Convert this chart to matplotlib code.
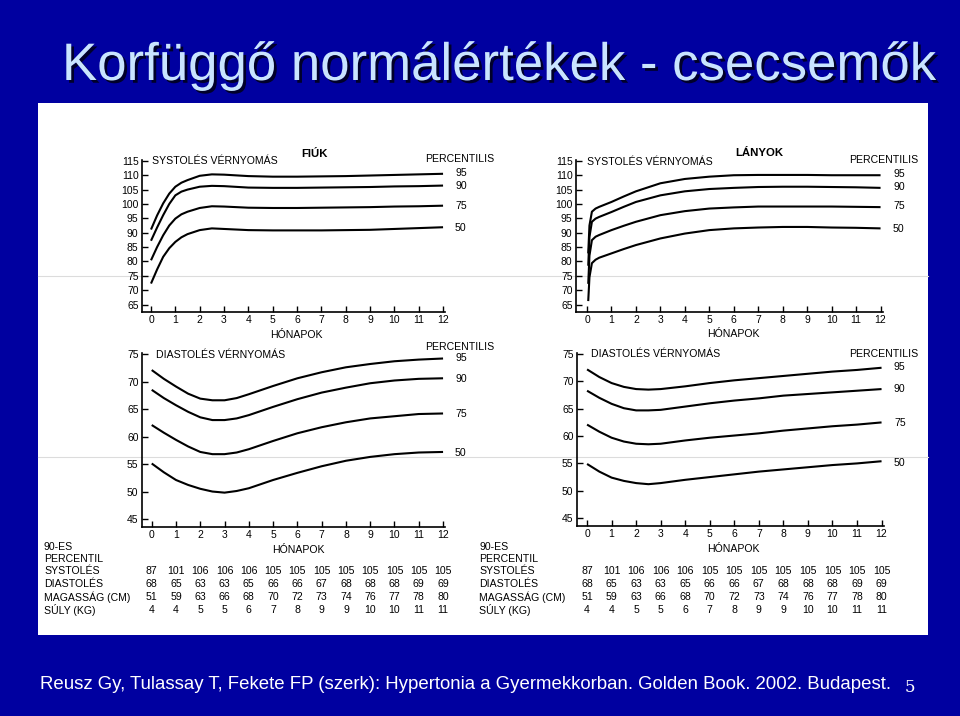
import matplotlib.pyplot as plt
import matplotlib.patheffects as pe
import matplotlib.transforms as mtransforms
from matplotlib.patches import Rectangle

plt.rcParams['font.family'] = ['Liberation Sans', 'DejaVu Sans']

# --- data ---
title = 'Korfüggő normálértékek - csecsemők'
footer = ('Reusz Gy, Tulassay T, Fekete FP (szerk): Hypertonia a Gyermekkorban. '
          'Golden Book. 2002. Budapest.')
percentiles = ['95', '90', '75', '50']

sys_boys_months = [0, 0.25, 0.5, 0.75, 1, 1.25, 1.5, 2, 2.5, 3, 4, 5, 6, 7, 8, 9, 10, 11, 12]
sys_boys = {
    '95': [91.1, 96.0, 100.2, 103.6, 106.0, 107.4, 108.3, 109.8, 110.3, 110.2, 109.7, 109.5,
           109.5, 109.6, 109.7, 109.9, 110.1, 110.3, 110.5],
    '90': [87.2, 91.8, 96.1, 100.0, 103.0, 104.3, 105.0, 106.0, 106.3, 106.2, 105.7, 105.6,
           105.6, 105.7, 105.8, 105.9, 106.1, 106.2, 106.4],
    '75': [80.4, 85.0, 89.1, 92.5, 94.9, 96.4, 97.3, 98.6, 99.2, 99.1, 98.7, 98.6,
           98.6, 98.7, 98.8, 98.9, 99.1, 99.2, 99.4],
    '50': [72.3, 77.2, 81.6, 84.6, 86.8, 88.4, 89.5, 90.9, 91.5, 91.3, 90.9, 90.8,
           90.8, 90.8, 90.9, 91.0, 91.3, 91.6, 91.9],
}

sys_girls_months = [0.05, 0.1, 0.2, 0.35, 0.5, 1, 1.5, 2, 3, 4, 5, 6, 7, 8, 9, 10, 11, 12]
sys_girls = {
    '95': [82.8, 92.5, 97.3, 98.4, 99.0, 100.7, 102.6, 104.4, 107.2, 108.7, 109.5, 110.0,
           110.1, 110.1, 110.1, 110.0, 110.0, 110.0],
    '90': [78.5, 88.5, 93.8, 94.9, 95.5, 97.2, 99.0, 100.7, 103.0, 104.4, 105.2, 105.6,
           105.9, 106.0, 106.0, 105.9, 105.8, 105.6],
    '75': [72.2, 82.0, 87.4, 88.6, 89.2, 90.9, 92.4, 93.8, 96.1, 97.5, 98.4, 98.8,
           99.1, 99.1, 99.1, 99.1, 99.0, 98.9],
    '50': [66.2, 74.5, 79.4, 80.6, 81.3, 82.8, 84.3, 85.7, 88.0, 89.7, 90.9, 91.5,
           91.8, 92.0, 92.0, 91.8, 91.7, 91.5],
}

dia_boys_months = [0, 0.5, 1, 1.5, 2, 2.5, 3, 3.5, 4, 5, 6, 7, 8, 9, 10, 11, 12]
dia_boys = {
    '95': [72.1, 70.5, 69.1, 67.8, 66.9, 66.6, 66.6, 67.0, 67.7, 69.2, 70.6, 71.7, 72.6, 73.2, 73.7, 74.0, 74.2],
    '90': [68.5, 67.0, 65.7, 64.5, 63.5, 63.0, 63.0, 63.3, 63.9, 65.4, 66.8, 68.0, 68.9, 69.7, 70.2, 70.5, 70.6],
    '75': [62.1, 60.7, 59.4, 58.2, 57.2, 56.8, 56.8, 57.1, 57.7, 59.2, 60.6, 61.7, 62.6, 63.3, 63.7, 64.1, 64.2],
    '50': [55.1, 53.5, 52.1, 51.2, 50.5, 50.0, 49.8, 50.1, 50.6, 52.1, 53.4, 54.6, 55.6, 56.3, 56.8, 57.1, 57.2],
}

dia_girls_months = [0, 0.5, 1, 1.5, 2, 2.5, 3, 4, 5, 6, 7, 8, 9, 10, 11, 12]
dia_girls = {
    '95': [72.2, 70.8, 69.7, 69.0, 68.6, 68.5, 68.6, 69.1, 69.7, 70.2, 70.6, 71.0, 71.4, 71.8, 72.1, 72.5],
    '90': [68.3, 67.0, 65.9, 65.1, 64.7, 64.7, 64.8, 65.4, 66.0, 66.5, 66.9, 67.4, 67.7, 68.0, 68.3, 68.6],
    '75': [62.1, 60.8, 59.7, 59.0, 58.6, 58.5, 58.6, 59.2, 59.7, 60.1, 60.5, 61.0, 61.4, 61.8, 62.1, 62.5],
    '50': [54.9, 53.5, 52.4, 51.8, 51.4, 51.2, 51.4, 52.0, 52.5, 53.0, 53.5, 53.9, 54.3, 54.7, 55.0, 55.4],
}

table_months = list(range(13))
row_labels = ['SYSTOLÉS', 'DIASTOLÉS', 'MAGASSÁG (CM)', 'SÚLY (KG)']
tbl_sys = [87, 101, 106, 106, 106, 105, 105, 105, 105, 105, 105, 105, 105]
tbl_dia = [68, 65, 63, 63, 65, 66, 66, 67, 68, 68, 68, 69, 69]
tbl_height = [51, 59, 63, 66, 68, 70, 72, 73, 74, 76, 77, 78, 80]
tbl_weight = [4, 4, 5, 5, 6, 7, 8, 9, 9, 10, 10, 11, 11]

# --- layout helpers (pixel coordinates, origin top-left) ---
W, H = 960, 716
fig = plt.figure(figsize=(W / 100, H / 100), dpi=100, facecolor='#0000A0')


def fx(x):
    return x / W


def fy(y):
    return 1 - y / H


def add_ax(left, top, right, bottom):
    ax = fig.add_axes([left / W, 1 - bottom / H, (right - left) / W, (bottom - top) / H])
    ax.set_zorder(2)
    return ax


fig.patches.append(Rectangle((fx(38), fy(635)), 890 / W, 532 / H, transform=fig.transFigure,
                             facecolor='white', edgecolor='none', zorder=-2))
# faint scan lines across the page
for yy in (276, 457):
    fig.add_artist(plt.Line2D([fx(38), fx(928)], [fy(yy), fy(yy)], color='#dcdcdc', lw=0.8, zorder=-1))


def style(ax, xlim, ylim, yticks):
    ax.set_facecolor('none')
    ax.set_xlim(*xlim)
    ax.set_ylim(*ylim)
    ax.set_xticks(range(13))
    ax.set_yticks(yticks)
    for s in ('top', 'right'):
        ax.spines[s].set_visible(False)
    for s in ('left', 'bottom'):
        ax.spines[s].set_linewidth(1.2)
    ax.tick_params(direction='in', length=4, width=1, labelsize=7.5, pad=2.5, colors='black')


def draw(ax, months, curves):
    for p in percentiles:
        ax.plot(months, curves[p], color='black', lw=1.5, solid_capstyle='butt')


small = dict(fontsize=7.6, color='black')

ax1 = add_ax(142, 160, 445, 312)
style(ax1, (-0.37, 12.08), (62.4, 115.3), range(65, 116, 5))
draw(ax1, sys_boys_months, sys_boys)

ax2 = add_ax(576, 160, 883, 312)
style(ax2, (-0.45, 12.1), (62.4, 115.3), range(65, 116, 5))
draw(ax2, sys_girls_months, sys_girls)

ax3 = add_ax(142, 353, 445, 527)
style(ax3, (-0.4, 12.08), (43.55, 75.2), range(45, 76, 5))
draw(ax3, dia_boys_months, dia_boys)

ax4 = add_ax(577, 353, 884, 526)
style(ax4, (-0.41, 12.1), (43.55, 75.2), range(45, 76, 5))
draw(ax4, dia_girls_months, dia_girls)

# panel texts
fig.text(fx(152), fy(161), 'SYSTOLÉS VÉRNYOMÁS', va='center', **small)
fig.text(fx(587), fy(162), 'SYSTOLÉS VÉRNYOMÁS', va='center', **small)
fig.text(fx(156), fy(355), 'DIASTOLÉS VÉRNYOMÁS', va='center', **small)
fig.text(fx(591), fy(354), 'DIASTOLÉS VÉRNYOMÁS', va='center', **small)
fig.text(fx(315), fy(154), 'FIÚK', ha='center', va='center', fontweight='bold', fontsize=8.2)
fig.text(fx(759), fy(153), 'LÁNYOK', ha='center', va='center', fontweight='bold', fontsize=8.2)

for x, y in ((460, 159), (884, 160), (460, 347), (884, 354)):
    fig.text(fx(x), fy(y), 'PERCENTILIS', ha='center', va='center', **small)

label_sets = [
    (455, [173, 186, 206, 228]),
    (893, [174, 187, 206, 229]),
    (455, [358, 379, 414, 453]),
    (894, [367, 389, 423, 463]),
]
for x, ys in label_sets:
    for p, y in zip(percentiles, ys):
        fig.text(fx(x), fy(y), p, va='center', **small)

for x, y in ((296, 335), (733, 334), (298, 550), (733, 549)):
    fig.text(fx(x), fy(y), 'HÓNAPOK', ha='center', va='center', **small)

# tables
rows = [tbl_sys, tbl_dia, tbl_height, tbl_weight]
row_y = [571, 584, 597, 610]
for ax, lx in ((ax3, 44), (ax4, 479)):
    fig.text(fx(lx), fy(547), '90-ES', va='center', **small)
    fig.text(fx(lx), fy(559), 'PERCENTIL', va='center', **small)
    tr = mtransforms.blended_transform_factory(ax.transData, fig.transFigure)
    for lab, vals, y in zip(row_labels, rows, row_y):
        fig.text(fx(lx), fy(y), lab, va='center', **small)
        for m, v in zip(table_months, vals):
            ax.text(m, fy(y), str(v), transform=tr, ha='center', va='center', clip_on=False, **small)

# title and footer
fig.text(fx(62), fy(80), title, fontsize=38.0, color='#C9E4FF', va='baseline', ha='left',
         path_effects=[pe.withSimplePatchShadow(offset=(2, -2), shadow_rgbFace='#00002A', alpha=1.0)])
fig.text(fx(40), fy(689), footer, fontsize=13.4, color='white', va='baseline', ha='left')
fig.text(fx(910), fy(692), '5', fontsize=12, color='white', va='baseline', ha='center',
         family='DejaVu Serif')

fig.savefig('out.png', dpi=100, facecolor=fig.get_facecolor())
